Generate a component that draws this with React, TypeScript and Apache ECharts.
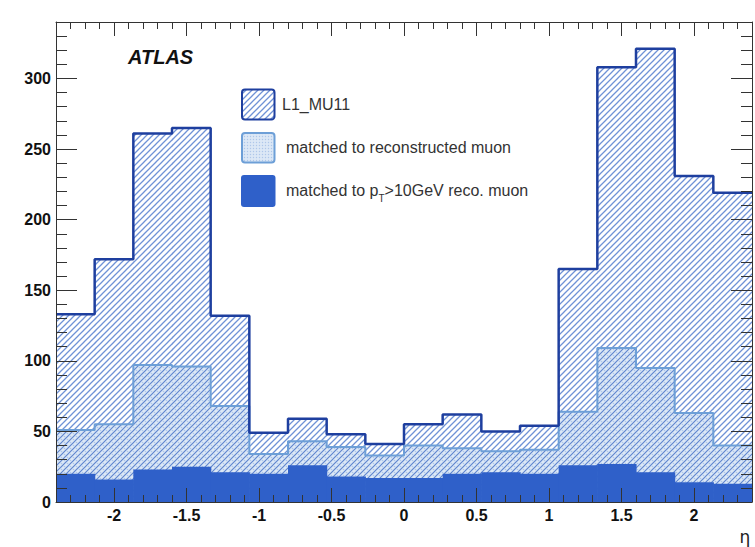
import React, { useEffect, useRef } from 'react';
import * as echarts from 'echarts';

// ---- data ----
const ETA_MIN = -2.4;
const ETA_MAX = 2.4;
const N_BINS = 18;
const l1Mu11 = [133, 172, 261, 265, 132, 49, 59, 48, 41, 55, 62, 50, 54, 165, 308, 321, 231, 219];
const matchedReco = [51, 55, 97, 96, 68, 34, 43, 39, 33, 40, 38, 36, 37, 64, 109, 95, 63, 40];
const matchedPt10 = [20, 16, 23, 25, 21, 20, 26, 18, 17, 17, 20, 21, 20, 26, 27, 21, 14, 13];
const Y_MIN = 0;
const Y_MAX = 340;
const Y_MAJOR = 50;
const Y_MINOR = 10;
const X_MINOR = 0.1;
const legendLabels = ['L1_MU11', 'matched to reconstructed muon'];

const BIN_W = (ETA_MAX - ETA_MIN) / N_BINS;
const edges = Array.from({ length: N_BINS + 1 }, (_, i) => ETA_MIN + i * BIN_W);

// ---- styles ----
const C_TOTAL = '#1e3f9f';
const C_HATCH = '#6f92d6';
const C_RECO_LINE = '#6d9fd7';
const C_RECO_BG = '#dce8f6';
const C_RECO_DOT = '#aec7ea';
const C_RECO_HATCH = '#5f86cf';
const C_PT = '#2f60c9';
const AX = '#333';

const svgUri = (s: string) => 'data:image/svg+xml;charset=utf-8,' + encodeURIComponent(s);
const hatchPath = (c: string, w: number) =>
  `<path d="M-1,7L7,-1M-1,1L1,-1M5,7L7,5" stroke="${c}" stroke-width="${w}" fill="none"/>`;
const hatchImg = svgUri(
  `<svg xmlns="http://www.w3.org/2000/svg" width="6" height="6">${hatchPath(C_HATCH, 1.3)}</svg>`
);
const hatchImgWhite = svgUri(
  `<svg xmlns="http://www.w3.org/2000/svg" width="6" height="6"><rect width="6" height="6" fill="#fff"/>${hatchPath(C_HATCH, 1.3)}</svg>`
);
const recoImg = svgUri(
  `<svg xmlns="http://www.w3.org/2000/svg" width="6" height="6"><rect width="6" height="6" fill="${C_RECO_BG}"/><circle cx="1.5" cy="1.5" r="0.8" fill="${C_RECO_DOT}"/><circle cx="4.5" cy="4.5" r="0.8" fill="${C_RECO_DOT}"/>${hatchPath(C_RECO_HATCH, 1.2)}</svg>`
);
const recoLegendImg = svgUri(
  `<svg xmlns="http://www.w3.org/2000/svg" width="3" height="3"><rect width="3" height="3" fill="${C_RECO_BG}"/><circle cx="1.5" cy="1.5" r="0.7" fill="${C_RECO_DOT}"/></svg>`
);
const pattern = (image: string, s = 6) => ({ image, repeat: 'repeat', imageWidth: s, imageHeight: s });

const binData = (vals: number[]) => vals.map((v, i) => [edges[i], edges[i + 1], v]);
const stepData = (vals: number[]) => [...vals.map((v, i) => [edges[i], v]), [ETA_MAX, vals[vals.length - 1]]];

const histSeries = (name: string, vals: number[], fill: any, z: number) => ({
  name,
  type: 'custom',
  xAxisIndex: 0,
  yAxisIndex: 0,
  z,
  data: binData(vals),
  encode: { x: [0, 1], y: 2 },
  renderItem: (params: any, api: any) => {
    const lo = api.value(0);
    const hi = api.value(1);
    const v = api.value(2);
    const p1 = api.coord([lo, v]);
    const p2 = api.coord([hi, 0]);
    const extra = params.dataIndex < N_BINS - 1 ? 0.6 : 0;
    return {
      type: 'rect',
      shape: { x: p1[0], y: p1[1], width: p2[0] - p1[0] + extra, height: p2[1] - p1[1] },
      style: { fill },
    };
  },
});

const outlineSeries = (vals: number[], color: string, width: number, z: number) => ({
  type: 'line',
  xAxisIndex: 0,
  yAxisIndex: 0,
  step: 'end',
  symbol: 'none',
  z,
  data: stepData(vals),
  lineStyle: { color, width },
});

const GRID = { left: 56, right: 3, top: 22, bottom: 45 };
const labelFont = { fontFamily: 'Liberation Sans, Arial, sans-serif', fontWeight: 'bold' as const, fontSize: 16, color: '#111' };

const xAx = (gridIndex: number, position: string, minor: boolean, line: boolean, labels: boolean) => ({
  type: 'value',
  gridIndex,
  position,
  min: ETA_MIN,
  max: ETA_MAX,
  ...(minor ? { interval: X_MINOR } : { splitNumber: 10 }),
  z: 20,
  axisLine: { show: line, onZero: false, lineStyle: { color: AX, width: 1 } },
  axisTick: { show: true, inside: true, length: minor ? 7 : 14, lineStyle: { color: AX, width: 1 } },
  axisLabel: { show: labels, showMinLabel: false, showMaxLabel: false, margin: 5, ...labelFont },
  splitLine: { show: false },
});
const yAx = (gridIndex: number, position: string, minor: boolean, line: boolean, labels: boolean) => ({
  type: 'value',
  gridIndex,
  position,
  min: Y_MIN,
  max: Y_MAX,
  interval: minor ? Y_MINOR : Y_MAJOR,
  z: 20,
  axisLine: { show: line, onZero: false, lineStyle: { color: AX, width: 1 } },
  axisTick: { show: true, inside: true, length: minor ? 11 : 21, lineStyle: { color: AX, width: 1 } },
  axisLabel: { show: labels, showMaxLabel: false, margin: 5, ...labelFont },
  splitLine: { show: false },
});

export default function App() {
  const ref = useRef<HTMLDivElement>(null);
  useEffect(() => {
    if (!ref.current) return;
    const chart = echarts.init(ref.current, null, { renderer: 'svg' });
    const textBase = { fontFamily: 'Liberation Sans, Arial, sans-serif', fontSize: 16, fill: '#333' };
    chart.setOption({
      animation: false,
      backgroundColor: '#fff',
      grid: [0, 1, 2, 3].map(() => ({ ...GRID })),
      xAxis: [
        xAx(0, 'bottom', false, true, true),
        xAx(1, 'bottom', true, false, false),
        xAx(2, 'top', false, true, false),
        xAx(3, 'top', true, false, false),
      ],
      yAxis: [
        yAx(0, 'left', false, true, true),
        yAx(1, 'left', true, false, false),
        yAx(2, 'right', false, true, false),
        yAx(3, 'right', true, false, false),
      ],
      series: [
        histSeries('L1_MU11', l1Mu11, pattern(hatchImg), 2),
        histSeries('matched to reconstructed muon', matchedReco, pattern(recoImg), 3),
        histSeries('matched to pT>10GeV reco. muon', matchedPt10, C_PT, 4),
        outlineSeries(matchedReco, C_RECO_LINE, 2, 5),
        outlineSeries(l1Mu11, C_TOTAL, 2.5, 6),
      ],
      graphic: [
        {
          type: 'text', left: 128, top: 47, z: 30,
          style: { text: 'ATLAS', fontFamily: 'Liberation Sans, Arial, sans-serif', fontWeight: 'bold', fontStyle: 'italic', fontSize: 20, fill: '#111' },
        },
        {
          type: 'rect', z: 30,
          shape: { x: 242, y: 89.5, width: 32.5, height: 30, r: 3 },
          style: { fill: pattern(hatchImgWhite) as any, stroke: C_TOTAL, lineWidth: 2 },
        },
        {
          type: 'rect', z: 30,
          shape: { x: 242, y: 133, width: 32.5, height: 29.5, r: 3 },
          style: { fill: pattern(recoLegendImg, 3) as any, stroke: C_RECO_LINE, lineWidth: 2 },
        },
        {
          type: 'rect', z: 30,
          shape: { x: 241, y: 175, width: 34.5, height: 32, r: 3 },
          style: { fill: C_PT },
        },
        {
          type: 'text', x: 282, y: 104, z: 30,
          style: { ...textBase, text: legendLabels[0], verticalAlign: 'middle' },
        },
        {
          type: 'text', x: 286, y: 147, z: 30,
          style: { ...textBase, text: legendLabels[1], verticalAlign: 'middle' },
        },
        {
          type: 'text', x: 286, y: 190, z: 30,
          style: {
            text: '{n|matched to p}{s|T}{n|>10GeV reco. muon}',
            verticalAlign: 'middle',
            rich: {
              n: { ...textBase },
              s: { ...textBase, fontSize: 10, padding: [16, 0, 0, 0] },
            },
          },
        },
        {
          type: 'text', x: 745, y: 537, z: 30,
          style: { text: 'η', fontFamily: 'DejaVu Sans, sans-serif', fontSize: 17, fill: '#222', align: 'center', verticalAlign: 'middle' },
        },
      ],
    });
    return () => chart.dispose();
  }, []);
  return <div ref={ref} style={{ position: 'fixed', left: 0, top: 0, width: 755, height: 547 }} />;
}
